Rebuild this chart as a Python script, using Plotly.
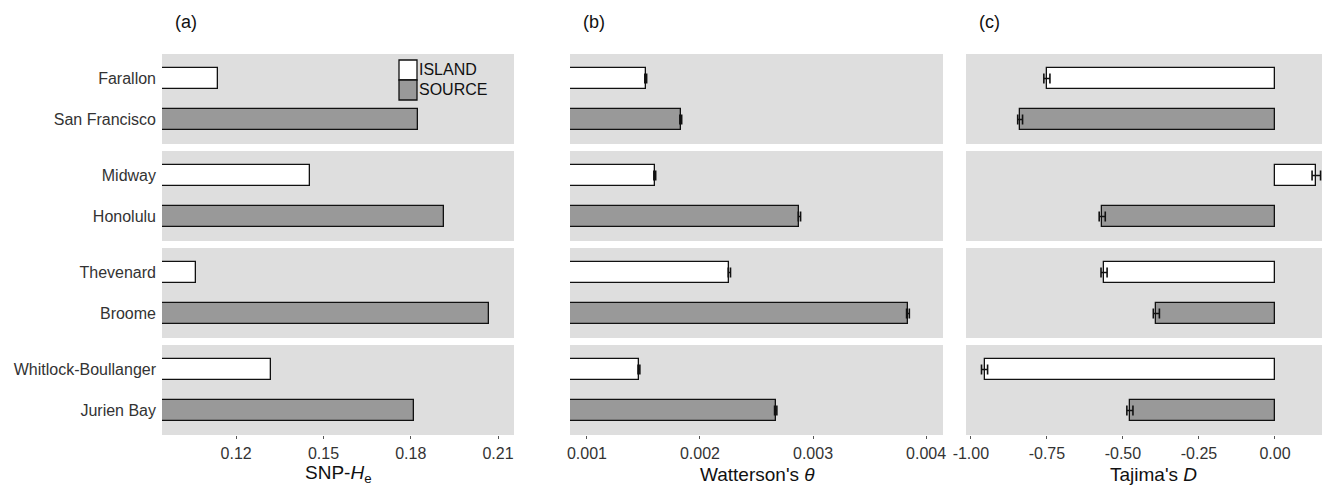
import plotly.graph_objects as go

# ---------------- data ----------------
islands = ["Farallon", "Midway", "Thevenard", "Whitlock-Boullanger"]
sources = ["San Francisco", "Honolulu", "Broome", "Jurien Bay"]

he_island = [0.1138, 0.1455, 0.1062, 0.1321]
he_source = [0.1824, 0.1914, 0.2069, 0.1810]

theta_island = [0.00152, 0.00160, 0.00226, 0.00146]
theta_source = [0.00183, 0.00288, 0.00384, 0.00267]
theta_island_err = [0.000008, 0.000008, 0.000010, 0.000008]
theta_source_err = [0.000008, 0.000010, 0.000012, 0.000010]

tajd_island = [-0.750, 0.136, -0.562, -0.955]
tajd_source = [-0.838, -0.568, -0.390, -0.477]
tajd_island_err = [0.010, 0.014, 0.010, 0.010]
tajd_source_err = [0.008, 0.010, 0.010, 0.010]

panel_titles = ["(a)", "(b)", "(c)"]
axis_titles = ["SNP-<i>H</i><sub>e</sub>", "Watterson's <i>θ</i>", "Tajima's <i>D</i>"]
x_ranges = [[0.0945, 0.2155], [0.00085, 0.00415], [-1.016, 0.181]]
x_ticks = [[0.12, 0.15, 0.18, 0.21], [0.001, 0.002, 0.003, 0.004], [-1.0, -0.75, -0.5, -0.25, 0.0]]
x_ticktext = [["0.12", "0.15", "0.18", "0.21"], ["0.001", "0.002", "0.003", "0.004"],
              ["-1.00", "-0.75", "-0.50", "-0.25", "0.00"]]

# ---------------- layout geometry ----------------
# page has an 8px body margin, so the figure is shifted; target pixel coords are compensated
OFF = 8
W, H = 1330 - OFF, 494 - 2 * OFF
col_px = [(162, 514), (570, 943), (966, 1330)]
row_px = [(54, 144), (151, 241), (248, 338), (345, 435)]


def px(x):
    return (x - OFF) / W


def py(y):
    return 1 - (y - OFF) / H


TEXT = "#333333"
BG = "#dedede"
GREY = "#999999"
FONT = "Liberation Sans, Arial, sans-serif"

panels = [
    (he_island, he_source, None, None),
    (theta_island, theta_source, theta_island_err, theta_source_err),
    (tajd_island, tajd_source, tajd_island_err, tajd_source_err),
]

fig = go.Figure()
layout = {}

for p, (vi, vs, ei, es) in enumerate(panels):
    for f in range(4):
        k = p * 4 + f + 1
        xn = "x" if k == 1 else f"x{k}"
        yn = "y" if k == 1 else f"y{k}"
        cats = [islands[f], sources[f]]
        for j, (vals, errs, fill) in enumerate([(vi, ei, "white"), (vs, es, GREY)]):
            tr = dict(
                x=[vals[f]], y=[cats[j]], orientation="h", base=0,
                width=0.5, marker=dict(color=fill, line=dict(color="#111111", width=1.3)),
                xaxis=xn, yaxis=yn, showlegend=False, hoverinfo="x+y", cliponaxis=True,
            )
            if errs is not None:
                tr["error_x"] = dict(type="data", array=[errs[f]], visible=True,
                                     color="#111111", thickness=1.6, width=5)
            fig.add_trace(go.Bar(**tr))
        x0, x1 = col_px[p]
        y0, y1 = row_px[f]
        xkey = "xaxis" if k == 1 else f"xaxis{k}"
        ykey = "yaxis" if k == 1 else f"yaxis{k}"
        layout[xkey] = dict(
            domain=[px(x0), min(1.0, px(x1))], range=x_ranges[p], anchor=yn, automargin=False,
            showgrid=False, zeroline=False, showline=False,
            tickmode="array", tickvals=x_ticks[p], ticktext=x_ticktext[p],
            showticklabels=(f == 3), ticks="outside" if f == 3 else "",
            ticklen=3, tickcolor="#555555", tickwidth=1, ticklabelstandoff=1,
            tickfont=dict(family=FONT, size=16, color=TEXT),
            fixedrange=True,
        )
        layout[ykey] = dict(
            domain=[py(y1), py(y0)], anchor=xn, type="category", automargin=False,
            categoryorder="array", categoryarray=cats, range=[1.6, -0.6],
            showgrid=False, zeroline=False, showline=False,
            showticklabels=(p == 0), ticks="", ticklabelstandoff=5,
            tickfont=dict(family=FONT, size=16, color=TEXT), fixedrange=True,
        )

annotations = []
title_x = [338, 757, 1153]
for p in range(3):
    annotations.append(dict(
        text=panel_titles[p], x=px(col_px[p][0] + 11), y=py(22),
        xref="paper", yref="paper", xanchor="left", yanchor="middle",
        showarrow=False, font=dict(family=FONT, size=18, color="#111111"),
    ))
    annotations.append(dict(
        text=axis_titles[p], x=px(title_x[p]), y=py(474),
        xref="paper", yref="paper", xanchor="center", yanchor="middle",
        showarrow=False, font=dict(family=FONT, size=19, color="#111111"),
    ))

# legend (drawn in panel a, top right)
legend_items = [("ISLAND", "white"), ("SOURCE", GREY)]
shapes = []
for i, (lab, col) in enumerate(legend_items):
    ky0 = 60 + i * 20
    shapes.append(dict(type="rect", xref="paper", yref="paper",
                       x0=px(399), x1=px(417), y0=py(ky0 + 20), y1=py(ky0),
                       fillcolor=col, line=dict(color="#111111", width=1.3)))
    annotations.append(dict(text=lab, x=px(417), y=py(ky0 + 10), xref="paper", yref="paper",
                            xanchor="left", yanchor="middle", showarrow=False,
                            font=dict(family=FONT, size=16, color="#111111")))

fig.update_layout(
    width=W, height=H, margin=dict(l=0, r=0, t=0, b=0, autoexpand=False),
    paper_bgcolor="white", plot_bgcolor=BG,
    barmode="overlay", bargap=0, showlegend=False,
    annotations=annotations, shapes=shapes,
    **layout,
)

fig.write_html("out.html")
